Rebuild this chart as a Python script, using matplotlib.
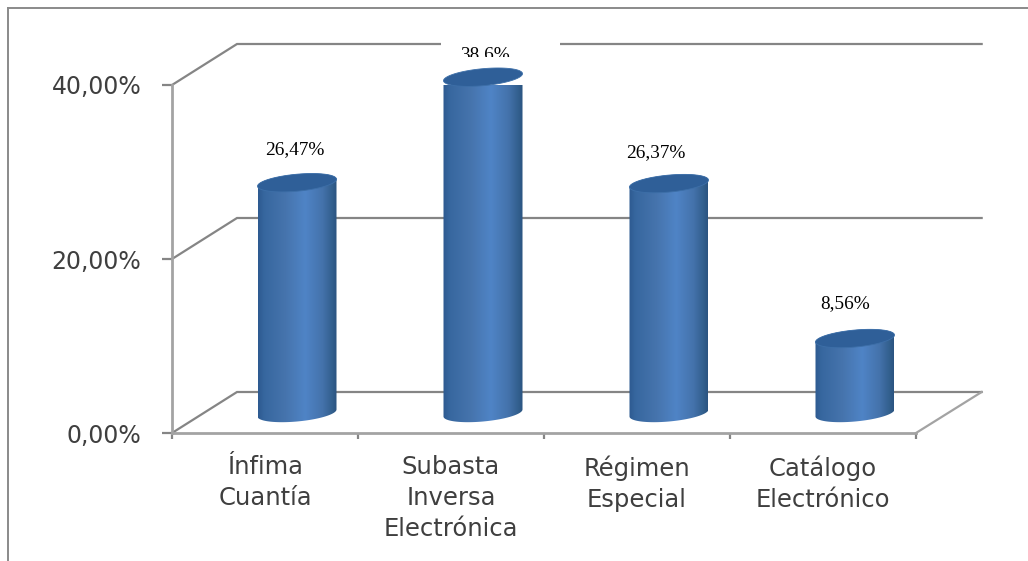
'''
Cylinder bar chart of procurement types, drawn with a fake 3D floor and walls.
'''

import numpy as np
import matplotlib
matplotlib.use('Agg')
import matplotlib.pyplot as plt
from matplotlib.colors import LinearSegmentedColormap
from matplotlib.patches import Polygon, Rectangle

categories = ['Ínfima\nCuantía', 'Subasta\nInversa\nElectrónica', 'Régimen\nEspecial', 'Catálogo\nElectrónico']
values = [26.47, 38.6, 26.37, 8.56]
value_labels = ['26,47%', '38,6%', '26,37%', '8,56%']
y_ticks = [0, 20, 40]
y_tick_labels = ['0,00%', '20,00%', '40,00%']

GRID = '#858585'
AXIS = '#a3a3a3'
TEXT = '#3f3f3f'

# figure is 1028x561 px, axes hold the front plane of the 3D box
W, H = 1028, 561
fig = plt.figure(figsize=(W / 100, H / 100), dpi=100, facecolor='white')
ax = fig.add_axes([172 / W, (H - 433) / H, 744 / W, 348 / H])
ax.set_xlim(0, 4)
ax.set_ylim(0, 40)
ax.patch.set_alpha(0)

# px to data units
sx = 4 / 744
sy = 40 / 348
depth_x = 65 * sx
depth_y = 41 * sy

# back wall lines and the diagonals that join them to the front plane
for y in y_ticks:
    ax.plot([0, depth_x, 4 + depth_x * 1.01], [y, y + depth_y, y + depth_y],
            color=GRID, lw=1.6, clip_on=False, zorder=1, solid_joinstyle='miter')
ax.plot([4, 4 + depth_x * 1.01], [0, depth_y], color=AXIS, lw=1.6, clip_on=False, zorder=1)

# the white patch that hides part of the top line behind the 38,6% label
ax.add_patch(Rectangle((269 * sx, 40 + 36 * sy), 119 * sx, 10 * sy, facecolor='white',
                       edgecolor='none', clip_on=False, zorder=2))

cmap = LinearSegmentedColormap.from_list('cyl', [
    (0.0, '#2d5a90'), (0.08, '#37679f'), (0.35, '#4674ad'), (0.6, '#4f84c6'),
    (0.82, '#4472ab'), (0.94, '#33608f'), (1.0, '#2b5480')])
gradient = np.linspace(0, 1, 256).reshape(1, -1)

a = 39.5
b = 8.5
tilt = 3.5
t = np.linspace(0, 2 * np.pi, 121)
base_x = 32 * sx
base_y = 20 * sy

# hand placed value labels, px offsets from the bar centre and the cap
label_dx = [-2.5, 1.5, -13, -10]
label_dy = [33, 23, 31, 35]

for i, v in enumerate(values):
    xc = i + 0.5 + base_x
    ex = a * np.cos(t) * sx
    ey = (b * np.sin(t) + tilt * np.cos(t)) * sy
    top_half = t <= np.pi
    bot_half = t >= np.pi
    body = np.vstack([
        np.column_stack([xc + ex[top_half], base_y + v + ey[top_half]]),
        np.column_stack([xc + ex[bot_half], base_y + ey[bot_half]]),
    ])
    clip = Polygon(body, closed=True, transform=ax.transData, facecolor='none', edgecolor='none')
    ax.add_patch(clip)
    im = ax.imshow(gradient, cmap=cmap, aspect='auto', zorder=3,
                   extent=[xc - a * sx, xc + a * sx, 0, base_y + v + (b + tilt) * sy])
    im.set_clip_path(clip)
    cap = np.column_stack([xc + ex, base_y + v + ey])
    ax.add_patch(Polygon(cap, closed=True, facecolor='#2f5f98', edgecolor='#3d6fa8', lw=0.6,
                         zorder=4, clip_on=False))

    label = ax.text(xc + label_dx[i] * sx, base_y + v + label_dy[i] * sy, value_labels[i],
                    ha='center', va='center', family='Liberation Serif', fontsize=13.9,
                    color='black', zorder=5, clip_on=False)
    if i == 1:
        # only the upper part of this label is visible in the source
        window = Rectangle((269 * sx, 40 + 28 * sy), 119 * sx, 30 * sy, transform=ax.transData)
        label.set_clip_path(window)
        label.set_clip_on(True)

ax.set_xlim(0, 4)
ax.set_ylim(0, 40)

# axes, ticks and their labels
for side in ['top', 'right']:
    ax.spines[side].set_visible(False)
for side in ['left', 'bottom']:
    ax.spines[side].set_color(AXIS)
    ax.spines[side].set_linewidth(2)
    ax.spines[side].set_zorder(2)

ax.set_yticks(y_ticks)
ax.set_yticklabels(y_tick_labels, family='DejaVu Sans', fontsize=17, color=TEXT)
ax.tick_params(axis='y', length=7, width=1.6, color=GRID, pad=15)
ax.set_xticks(range(5))
ax.set_xticklabels([])
ax.tick_params(axis='x', length=4, width=1.6, color=GRID)
ax.set_xticks(np.arange(4) + 0.5, minor=True)
ax.set_xticklabels(categories, minor=True, family='DejaVu Sans', fontsize=17.5, color=TEXT,
                   linespacing=1.37)
ax.tick_params(axis='x', which='minor', length=0, pad=16)

# scan frame around the picture
fig.add_artist(plt.Line2D([8 / W, 1], [1 - 8 / H, 1 - 8 / H], color='#8a8a8a', lw=1.4))
fig.add_artist(plt.Line2D([8 / W, 8 / W], [0, 1 - 8 / H], color='#8a8a8a', lw=1.4))

fig.savefig('out.png', dpi=100)
